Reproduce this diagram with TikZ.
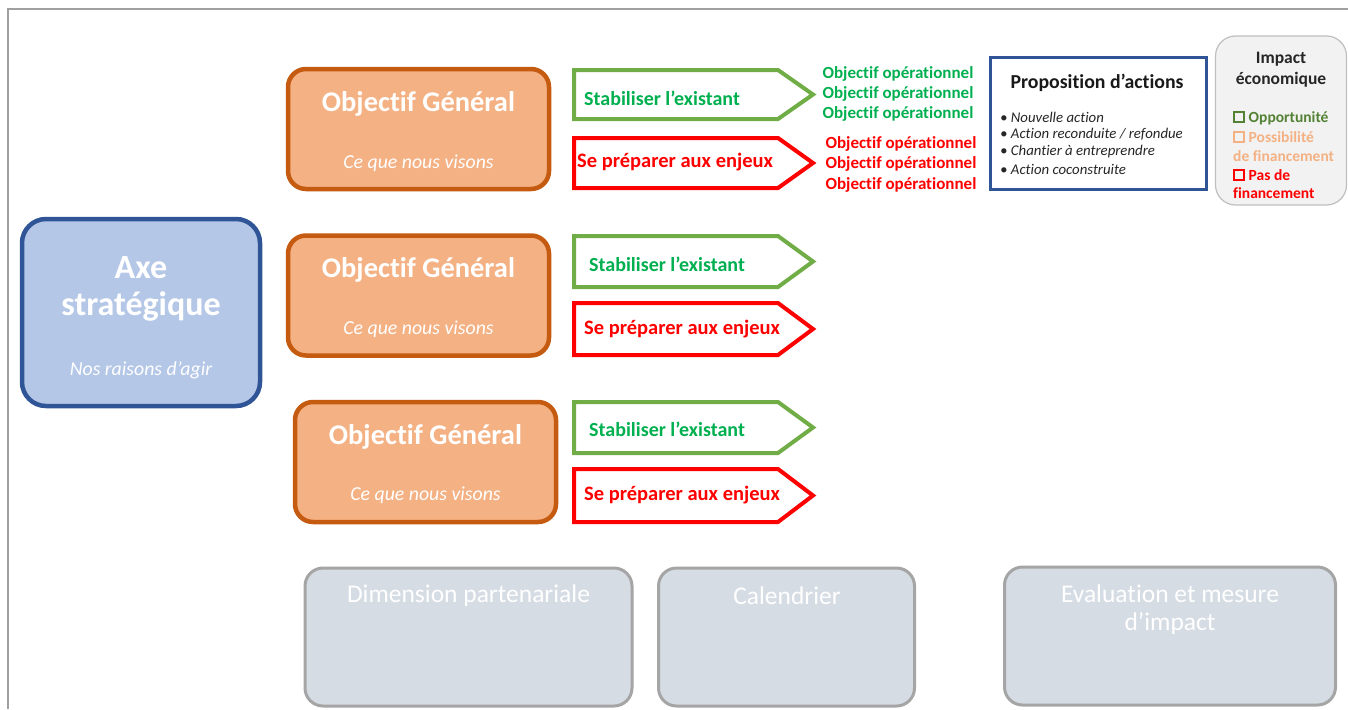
\documentclass[tikz,border=0pt]{standalone}
\usepackage{fontspec}
\setmainfont[RawFeature=-liga]{Carlito}
\definecolor{axefill}{RGB}{180,199,231}
\definecolor{axeborder}{RGB}{47,85,151}
\definecolor{ogfill}{RGB}{244,177,131}
\definecolor{ogborder}{RGB}{197,90,17}
\definecolor{grnline}{RGB}{112,173,71}
\definecolor{grntext}{RGB}{0,176,80}
\definecolor{redc}{RGB}{255,0,0}
\definecolor{grayfill}{RGB}{214,220,228}
\definecolor{grayborder}{RGB}{165,165,165}
\definecolor{impfill}{RGB}{242,242,242}
\definecolor{impborder}{RGB}{191,191,191}
\definecolor{darkgrn}{RGB}{84,130,53}
\definecolor{darktxt}{RGB}{38,38,38}
\definecolor{framec}{RGB}{160,160,160}
\newcommand\chkbox[1]{\tikz[baseline=0pt]\draw[#1,line width=2pt] (1pt,1pt) rectangle (11pt,11pt);}
\begin{document}
\begin{tikzpicture}[x=1pt,y=-1pt,
  frameline/.style={draw=framec,line width=1.5pt},
  axebox/.style={draw=axeborder,fill=axefill,line width=4.5pt,rounded corners=24pt,inner sep=0pt},
  ogbox/.style={draw=ogborder,fill=ogfill,line width=4.5pt,rounded corners=18pt,inner sep=0pt},
  graybox/.style={draw=grayborder,fill=grayfill,line width=3pt,rounded corners=18pt,inner sep=0pt},
  propbox/.style={draw=axeborder,fill=white,line width=3pt,inner sep=0pt},
  impbox/.style={draw=impborder,fill=impfill,line width=1.2pt,rounded corners=20pt,inner sep=0pt},
  grnsig/.style={draw=grnline,fill=white,line width=4pt},
  redsig/.style={draw=redc,fill=white,line width=4pt},
  bigtitle/.style={text=white,font=\fontsize{34}{38}\selectfont\bfseries,inner sep=0pt},
  ogtitle/.style={text=white,font=\fontsize{28.5}{32}\selectfont\bfseries,inner sep=0pt},
  subtitle/.style={text=white,font=\fontsize{19.8}{23}\selectfont\itshape,inner sep=0pt},
  grntxt/.style={text=grntext,font=\fontsize{20}{23}\selectfont\bfseries,inner sep=0pt,anchor=west},
  redtxt/.style={text=redc,font=\fontsize{20.5}{23}\selectfont\bfseries,inner sep=0pt,anchor=west},
  opgrn/.style={text=grntext,font=\fontsize{17}{20}\selectfont\bfseries,inner sep=0pt},
  opred/.style={text=redc,font=\fontsize{17}{20}\selectfont\bfseries,inner sep=0pt},
  proptitle/.style={text=black!90,font=\fontsize{19.8}{23}\selectfont\bfseries,inner sep=0pt},
  bullet/.style={text=black!85,font=\fontsize{14.8}{17}\selectfont\itshape,inner sep=0pt,anchor=west},
  imptitle/.style={text=darktxt,font=\fontsize{17.5}{21}\selectfont\bfseries,inner sep=0pt},
  impitem/.style={font=\fontsize{15.5}{18}\selectfont\bfseries,inner sep=0pt,anchor=west},
  graytxt/.style={text=white,font=\fontsize{25.5}{29}\selectfont,inner sep=0pt}
]
\useasboundingbox (0,0) rectangle (1348,709);
% frame
\coordinate (fa) at (8,709);
\coordinate (fb) at (8,9);
\coordinate (fc) at (1348,9);
\draw[frameline] (fa) -- (fb) -- (fc);

% Axe strategique
\node[axebox,minimum width=238,minimum height=187] (axe) at (141,312.5) {};
\node[bigtitle] (axe1) at (141,268) {Axe};
\node[bigtitle] (axe2) at (141,306) {stratégique};
\node[subtitle] (axe3) at (141,370) {Nos raisons d’agir};

% Objectifs generaux
\node[ogbox,minimum width=261,minimum height=120] (og1) at (418.5,129) {};
\node[ogtitle] (og1t) at (418.5,104) {Objectif Général};
\node[subtitle] (og1s) at (418.5,163) {Ce que nous visons};
\node[ogbox,minimum width=261,minimum height=120] (og2) at (418.5,295.5) {};
\node[ogtitle] (og2t) at (418.5,270) {Objectif Général};
\node[subtitle] (og2s) at (418.5,329) {Ce que nous visons};
\node[ogbox,minimum width=261,minimum height=120] (og3) at (425.5,462) {};
\node[ogtitle] (og3t) at (425.5,437) {Objectif Général};
\node[subtitle] (og3s) at (425.5,495) {Ce que nous visons};

% signal arrows row 1
\draw[grnsig] (574,70) -- (778,70) -- (813,94.5) -- (778,119) -- (574,119) -- cycle;
\node[grntxt] (s1) at (584,98) {Stabiliser l’existant};
\draw[redsig] (574,138) -- (778,138) -- (813,163) -- (778,188) -- (574,188) -- cycle;
\node[redtxt] (p1) at (577,162) {Se préparer aux enjeux};
% row 2
\draw[grnsig] (574,236) -- (778,236) -- (813,261.5) -- (778,287) -- (574,287) -- cycle;
\node[grntxt] (s2) at (589,264) {Stabiliser l’existant};
\draw[redsig] (574,303) -- (778,303) -- (813,329) -- (778,355) -- (574,355) -- cycle;
\node[redtxt] (p2) at (584,329) {Se préparer aux enjeux};
% row 3
\draw[grnsig] (574,402) -- (778,402) -- (813,427.5) -- (778,453) -- (574,453) -- cycle;
\node[grntxt] (s3) at (589,429) {Stabiliser l’existant};
\draw[redsig] (574,469) -- (778,469) -- (813,495.5) -- (778,522) -- (574,522) -- cycle;
\node[redtxt] (p3) at (584,495) {Se préparer aux enjeux};

% objectifs operationnels
\node[opgrn] (o1) at (898,74) {Objectif opérationnel};
\node[opgrn] (o2) at (898,94) {Objectif opérationnel};
\node[opgrn] (o3) at (898,114) {Objectif opérationnel};
\node[opred] (o4) at (901,144) {Objectif opérationnel};
\node[opred] (o5) at (901,164) {Objectif opérationnel};
\node[opred] (o6) at (901,185) {Objectif opérationnel};

% proposition d'actions
\node[propbox,minimum width=216,minimum height=131] (prop) at (1098,123.5) {};
\node[proptitle] (propt) at (1097,83) {Proposition d’actions};
\node[bullet] (b1) at (1000,117) {• Nouvelle action};
\node[bullet] (b2) at (1000,134) {• Action reconduite / refondue};
\node[bullet] (b3) at (1000,152) {• Chantier à entreprendre};
\node[bullet] (b4) at (1000,169) {• Action coconstruite};

% impact economique
\node[impbox,minimum width=131,minimum height=169] (imp) at (1281,120.5) {};
\node[imptitle] (impt1) at (1281,59) {Impact};
\node[imptitle] (impt2) at (1281,80) {économique};
\node[impitem,text=darkgrn] (i1) at (1233,118) {\chkbox{darkgrn} Opportunité};
\node[impitem,text=ogfill] (i2) at (1233,137) {\chkbox{ogfill} Possibilité};
\node[impitem,text=ogfill] (i3) at (1233,156) {de financement};
\node[impitem,text=redc] (i4) at (1233,175) {\chkbox{redc} Pas de};
\node[impitem,text=redc] (i5) at (1233,193) {financement};

% gray boxes
\node[graybox,minimum width=327,minimum height=138] (g1) at (468.5,637) {};
\node[graytxt] (g1t) at (468.5,596) {Dimension partenariale};
\node[graybox,minimum width=256,minimum height=138] (g2) at (786.5,637) {};
\node[graytxt] (g2t) at (787,596) {Calendrier};
\node[graybox,minimum width=331,minimum height=138] (g3) at (1170,636) {};
\node[graytxt] (g3t) at (1170,594) {Evaluation et mesure};
\node[graytxt] (g3u) at (1170,624) {d’impact};
\end{tikzpicture}
\end{document}
